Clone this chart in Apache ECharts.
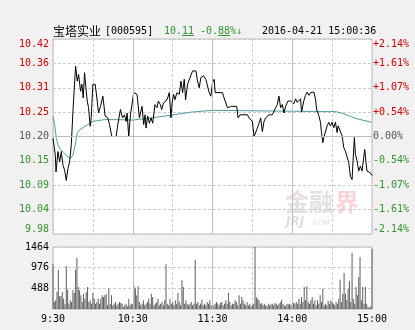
<!DOCTYPE html>
<html><head><meta charset="utf-8">
<script src="https://cdn.jsdelivr.net/npm/echarts@6/dist/echarts.min.js"></script>
<style>html,body{margin:0;padding:0;background:#f2f0f0}#c{width:415px;height:330px}</style>
</head><body><div id="c"></div><script>
// minute index (0 = 9:30, 120 = 11:30/13:00, 240 = 15:00)
const priceTimes=[0,1.75,2.25,3.75,5,6.25,7.5,8.75,10,11.25,12.5,13.75,15,15.75,17,18.25,19.25,20.75,21.75,22.75,23.75,24.75,25.75,26.75,28,28.75,30,31.75,33,34.25,35.75,37.5,39.25,41.25,42.5,44.25,47.5,48.75,50.75,52.25,53.75,55,55.75,57,58.25,60.75,
63.25,65,66.25,67,68.25,69.25,70,71.25,72.5,73.75,75,76.75,78.25,79.25,80.75,81.75,83.25,85,86.25,87.5,88.75,89.75,90.75,91.75,93.25,95,96.25,97.5,98.75,99.75,101.25,102.5,105,107.5,108.75,110,111.25,113.25,115,117.5,118.75,120,
121.25,122,127.5,128.25,129.25,131.25,132.5,134.25,138.25,139.25,140.75,146.25,147.5,148.75,150,151.25,152.5,153.75,155,156.25,157.5,158.75,160,162.5,165,167.5,168.75,170,171.25,172.5,173.75,175,176.75,178.75,
180,181.25,182.5,183.75,185,186.25,187,188,188.75,190,191.25,192.5,193.75,195,196.25,197.5,198.25,199.5,200,201.25,202,203,203.75,205,206.25,207.5,208.75,210,211.25,212.5,213.75,214.5,215.75,217.5,218.75,220,221.25,222.5,223.75,225,225.75,226.75,227.5,228.75,230,231.25,232.5,233.75,234.5,235.5,236.25,237.5,238.75,240];
const priceValues=[10.196,10.158,10.120,10.166,10.143,10.166,10.135,10.124,10.101,10.128,10.143,10.181,10.257,10.253,10.359,10.325,10.340,10.302,10.318,10.287,10.344,10.310,10.280,10.265,10.223,10.242,10.318,10.318,10.287,10.253,10.268,10.291,10.246,10.242,10.227,10.200,10.200,10.227,10.261,10.242,10.249,10.234,10.253,10.200,10.249,10.299,
10.295,10.242,10.246,10.268,10.227,10.249,10.219,10.246,10.230,10.242,10.230,10.272,10.265,10.280,10.272,10.261,10.276,10.280,10.287,10.299,10.242,10.280,10.295,10.283,10.299,10.295,10.325,10.299,10.329,10.283,10.318,10.314,10.348,10.348,10.325,10.310,10.333,10.337,10.329,10.299,10.291,10.321,
10.329,10.299,10.299,10.291,10.295,10.265,10.261,10.268,10.268,10.242,10.249,10.249,10.242,10.246,10.234,10.200,10.204,10.219,10.230,10.242,10.211,10.234,10.242,10.249,10.249,10.265,10.272,10.291,10.265,10.272,10.253,10.268,10.280,10.280,
10.281,10.274,10.285,10.277,10.274,10.285,10.255,10.270,10.281,10.293,10.300,10.293,10.299,10.296,10.300,10.285,10.262,10.262,10.247,10.232,10.209,10.186,10.198,10.198,10.224,10.232,10.224,10.232,10.220,10.232,10.209,10.224,10.220,10.202,10.175,10.167,10.167,10.141,10.110,10.103,10.145,10.198,10.160,10.145,10.122,10.133,10.122,10.152,10.171,10.141,10.122,10.122,10.118,10.112];
const avgTimes=[0,1.25,2.5,3.75,5.75,8.75,11.25,13.25,15,16.75,18.25,20,22.5,26.25,30,33.75,38.75,48.75,60,73.75,88.75,103.75,120,150,181,213,218,224,230,240];
const avgValues=[10.245,10.227,10.196,10.181,10.170,10.162,10.154,10.151,10.158,10.181,10.208,10.215,10.220,10.227,10.234,10.236,10.238,10.238,10.237,10.242,10.248,10.255,10.259,10.258,10.257,10.256,10.252,10.245,10.239,10.232];
const volumes=[1055,165,205,401,929,300,300,401,244,126,1015,460,126,205,165,441,380,929,1212,519,441,323,165,362,244,401,519,165,205,126,380,244,126,165,244,126,244,323,283,323,362,87,480,126,323,87,126,165,87,126,165,140,126,47,87,126,60,244,87,126,110,535,480,323,535,
165,87,126,205,87,126,165,244,126,362,283,87,126,165,244,87,126,165,87,205,1055,126,87,244,126,165,87,205,126,378,165,87,677,519,126,205,126,87,126,165,87,126,1165,126,165,87,126,220,87,126,87,165,126,205,87,126,
87,126,165,126,87,141,165,87,126,205,126,378,165,87,126,126,205,165,87,323,126,283,205,126,87,165,87,126,63,87,126,1464,283,244,205,126,141,87,126,87,63,126,87,110,126,87,141,126,87,126,165,220,126,87,63,126,110,126,87,126,141,126,165,126,244,126,283,165,519,205,535,165,126,205,283,126,205,87,205,126,323,165,480,87,126,87,189,126,205,165,126,87,165,126,244,692,165,362,850,362,205,480,661,165,1330,244,126,519,323,755,1228,205,519,126,519,126,47,30,63,1424];
const priceLabels=['9.98','10.04','10.09','10.15','10.20','10.25','10.31','10.36','10.42'];
const pctLabels=['-2.14%','-1.61%','-1.07%','-0.54%','0.00%','+0.54%','+1.07%','+1.61%','+2.14%'];
const timeLabels=['9:30','10:30','11:30','14:00','15:00'];
const PREV=10.20, STEP=0.055, VOLMAX=1464;

const MONO='"DejaVu Sans Mono", monospace';
const dashed={show:true,lineStyle:{color:'#cccccc',type:[3,2],width:1}};
const lvl=v=>{v=Math.round(Number(v));return v>0?'#cc0000':(v<0?'#2f962f':'#555555');};
const toLevel=(ts,vs)=>ts.map((t,i)=>[t,(vs[i]-PREV)/STEP]);
const solidML=(items)=>({silent:true,symbol:'none',animation:false,label:{show:false},lineStyle:{color:'#bcbcbc',type:'solid',width:1},data:items});

const chart=echarts.init(document.getElementById('c'),null,{renderer:'canvas'});
chart.setOption({
  backgroundColor:'#f2f0f0',
  animation:false,
  grid:[
    {left:53,right:43,top:39,height:195,show:true,backgroundColor:'#ffffff',borderColor:'#bcbcbc',borderWidth:1},
    {left:53,right:43,top:247,height:62,show:true,backgroundColor:'#ffffff',borderColor:'#bcbcbc',borderWidth:1}
  ],
  xAxis:[
    {type:'value',gridIndex:0,min:0,max:240,interval:30,axisLine:{show:false},axisTick:{show:false},axisLabel:{show:false},splitLine:dashed},
    {type:'value',gridIndex:1,min:0,max:240,interval:30,axisLine:{show:false},axisTick:{show:false},splitLine:dashed,
     axisLabel:{margin:5,fontFamily:MONO,fontSize:10,color:'#000',formatter:v=>(v%60===0?timeLabels[v/60]:'')}}
  ],
  yAxis:[
    {type:'value',gridIndex:0,min:-4,max:4,interval:1,axisLine:{show:false},axisTick:{show:false},splitLine:dashed,
     axisLabel:{margin:4,fontFamily:MONO,fontSize:10,color:lvl,formatter:v=>priceLabels[Math.round(v)+4],verticalAlignMaxLabel:'top',verticalAlignMinLabel:'bottom'}},
    {type:'value',gridIndex:0,position:'right',min:-4,max:4,interval:1,axisLine:{show:false},axisTick:{show:false},splitLine:{show:false},
     axisLabel:{margin:1,fontFamily:MONO,fontSize:10,color:lvl,formatter:v=>pctLabels[Math.round(v)+4],verticalAlignMaxLabel:'top',verticalAlignMinLabel:'bottom'}},
    {type:'value',gridIndex:1,min:0,max:VOLMAX,interval:VOLMAX/3,axisLine:{show:false},axisTick:{show:false},splitLine:dashed,
     axisLabel:{margin:4,fontFamily:MONO,fontSize:10,color:'#000',formatter:v=>(v===0?'':String(Math.round(v)))}}
  ],
  series:[
    {type:'line',xAxisIndex:0,yAxisIndex:0,data:toLevel(avgTimes,avgValues),symbol:'none',smooth:false,lineStyle:{color:'#4f9c9c',width:1},z:3},
    {type:'line',xAxisIndex:0,yAxisIndex:0,data:toLevel(priceTimes,priceValues),symbol:'none',smooth:false,lineStyle:{color:'#000000',width:1},z:4,
     markLine:solidML([{yAxis:0},{xAxis:60},{xAxis:120},{xAxis:180}])},
    {type:'bar',xAxisIndex:1,yAxisIndex:2,data:volumes.map((v,i)=>[i,v]),barWidth:1,itemStyle:{color:'#5e5e5e'},z:3,
     markLine:solidML([{xAxis:60},{xAxis:120},{xAxis:180}])}
  ],
  graphic:[
    {type:'text',x:53,y:31,style:{text:'宝塔实业',font:'12px "Noto Sans CJK SC"',fill:'#000',verticalAlign:'middle'}},
    {type:'text',x:105,y:31,style:{text:'[000595]',font:'10px '+MONO,fill:'#000',verticalAlign:'middle'}},
    {type:'text',x:164,y:31,style:{text:'10.11',font:'10px '+MONO,fill:'#2f962f',verticalAlign:'middle'}},
    {type:'line',shape:{x1:182,y1:35.5,x2:194,y2:35.5},style:{stroke:'#2f962f',lineWidth:1}},
    {type:'text',x:200,y:31,style:{text:'-0.88%↓',font:'10px '+MONO,fill:'#2f962f',verticalAlign:'middle'}},
    {type:'line',shape:{x1:218,y1:35.5,x2:230,y2:35.5},style:{stroke:'#2f962f',lineWidth:1}},
    {type:'text',x:262,y:31,style:{text:'2016-04-21 15:00:36',font:'10px '+MONO,fill:'#000',verticalAlign:'middle'}},
    {type:'text',x:285,y:202,z:1,style:{text:'金融',font:'bold 24px "Noto Sans CJK SC"',fill:'rgba(190,175,175,0.4)',verticalAlign:'middle'}},
    {type:'text',x:335,y:202,z:1,style:{text:'界',font:'bold 24px "Noto Sans CJK SC"',fill:'rgba(235,150,165,0.4)',verticalAlign:'middle'}},
    {type:'text',x:286,y:222,z:1,style:{text:'JRJ',font:'italic bold 12px "DejaVu Sans"',fill:'rgba(190,175,175,0.45)',verticalAlign:'middle'}},
    {type:'text',x:311,y:223,z:1,style:{text:'.COM',font:'italic 7px "DejaVu Sans"',fill:'rgba(190,175,175,0.45)',verticalAlign:'middle'}}
  ]
});
</script></body></html>
